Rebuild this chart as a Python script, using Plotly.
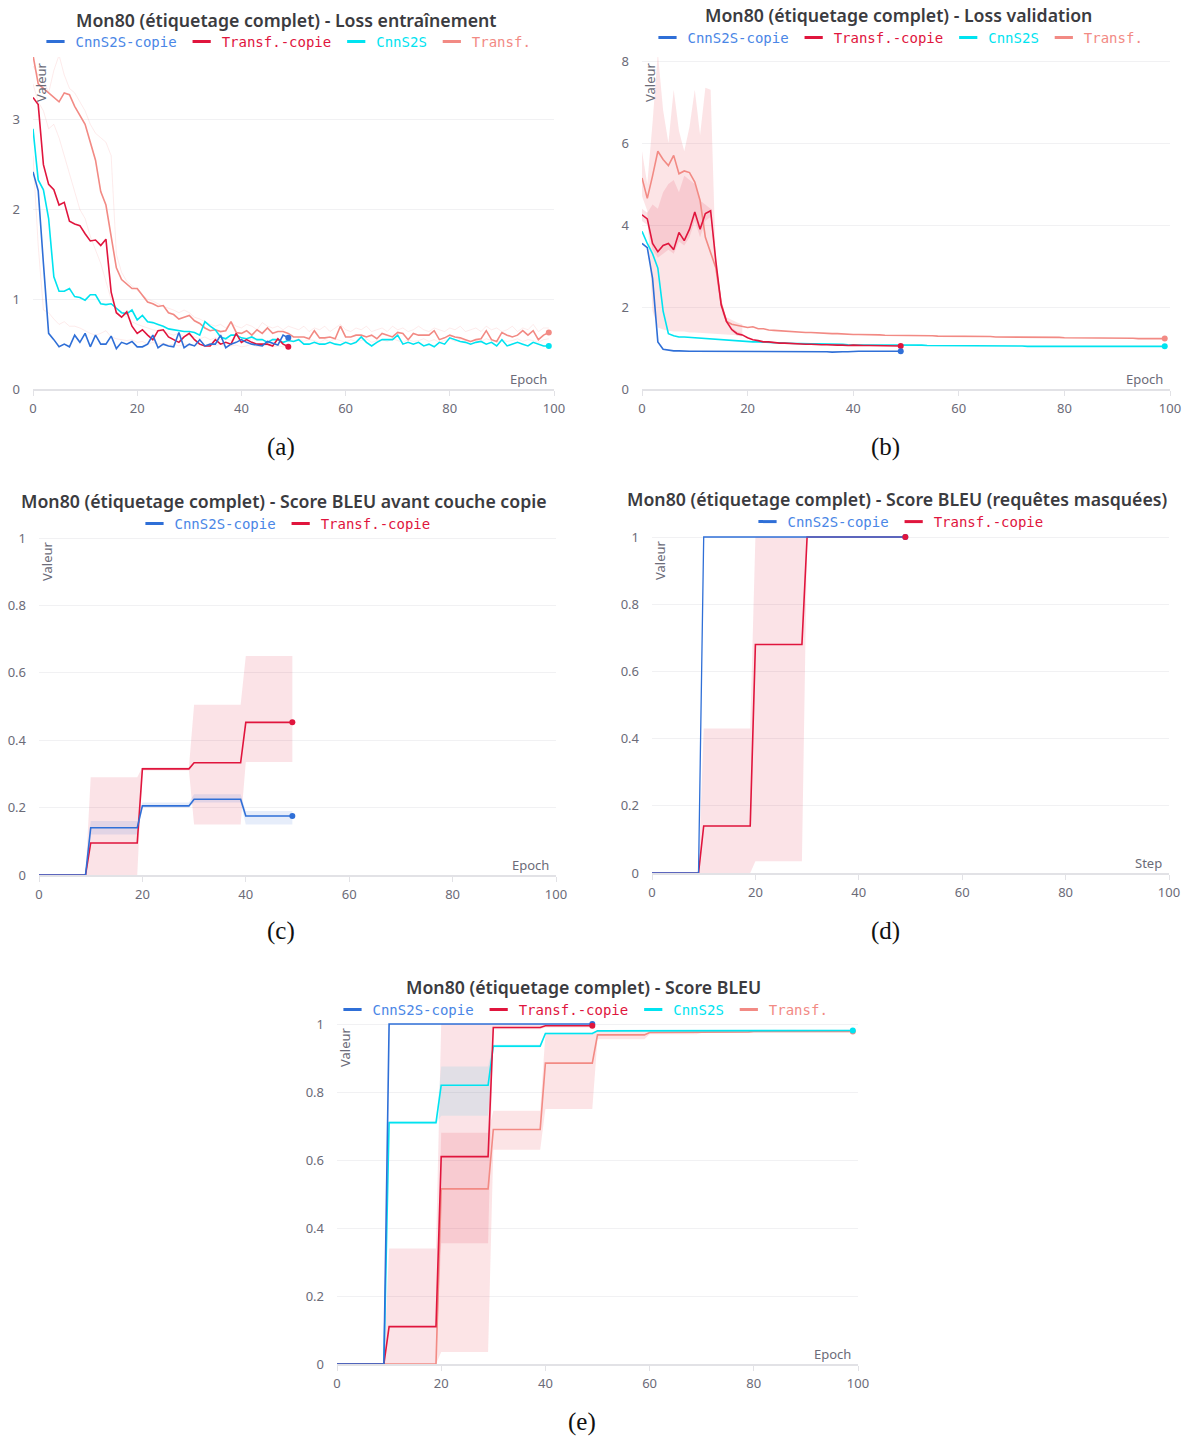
import numpy as np
import plotly.graph_objects as go

W, H = 1190, 1437

# Series colours
BLUE = "#2f6fd7"
RED = "#e0153d"
CYAN = "#00e3f0"
SALMON = "#f28a84"
BLUE_TXT = "#4a86e6"

NAMES = ["CnnS2S-copie", "Transf.-copie", "CnnS2S", "Transf."]
COLORS = [BLUE, RED, CYAN, SALMON]
TEXT_COLORS = [BLUE_TXT, RED, CYAN, SALMON]

# ---------------- (a) training loss ----------------
a_cnn_copie = [2.42, 2.21, 1.40, 0.62, 0.55, 0.47, 0.50, 0.47, 0.60, 0.52, 0.62, 0.47, 0.60, 0.50, 0.50, 0.59, 0.45,
               0.52, 0.50, 0.53, 0.47, 0.47, 0.50, 0.60, 0.46, 0.50, 0.48, 0.47, 0.63, 0.46, 0.50, 0.48, 0.55, 0.48,
               0.50, 0.50, 0.60, 0.46, 0.50, 0.52, 0.55, 0.52, 0.50, 0.49, 0.48, 0.53, 0.51, 0.49, 0.60, 0.57]
a_tr_copie = [3.25, 3.17, 2.50, 2.28, 2.22, 2.05, 2.08, 1.87, 1.84, 1.82, 1.73, 1.65, 1.66, 1.60, 1.67, 1.08, 0.85,
              0.80, 0.86, 0.70, 0.62, 0.66, 0.60, 0.55, 0.65, 0.66, 0.58, 0.55, 0.52, 0.58, 0.62, 0.55, 0.50, 0.48,
              0.48, 0.55, 0.50, 0.52, 0.50, 0.62, 0.52, 0.55, 0.52, 0.50, 0.50, 0.50, 0.48, 0.56, 0.50, 0.47]
a_cnn = [2.90, 2.33, 2.22, 1.90, 1.25, 1.09, 1.09, 1.12, 1.03, 1.02, 0.99, 1.05, 1.05, 0.95, 0.94, 0.95, 0.90, 0.85,
         0.84, 0.88, 0.77, 0.82, 0.75, 0.74, 0.72, 0.70, 0.67, 0.66, 0.65, 0.64, 0.64, 0.63, 0.60, 0.75, 0.70, 0.66,
         0.58, 0.56, 0.60, 0.60, 0.57, 0.56, 0.58, 0.55, 0.55, 0.52, 0.55, 0.55, 0.52, 0.54, 0.53, 0.55, 0.50, 0.50,
         0.52, 0.50, 0.50, 0.52, 0.50, 0.49, 0.52, 0.50, 0.52, 0.58, 0.52, 0.48, 0.52, 0.55, 0.55, 0.55, 0.60, 0.50,
         0.52, 0.50, 0.52, 0.48, 0.50, 0.47, 0.52, 0.50, 0.57, 0.55, 0.53, 0.52, 0.50, 0.52, 0.53, 0.50, 0.52, 0.48,
         0.55, 0.48, 0.50, 0.52, 0.50, 0.48, 0.52, 0.50, 0.48, 0.48]
a_tr = [3.72, 3.40, 3.35, 3.30, 3.25, 3.20, 3.30, 3.28, 3.15, 3.05, 2.95, 2.75, 2.55, 2.20, 2.05, 1.70, 1.35, 1.22,
        1.17, 1.12, 1.12, 1.05, 0.97, 0.95, 0.92, 0.93, 0.85, 0.83, 0.78, 0.80, 0.82, 0.76, 0.73, 0.68, 0.65, 0.66,
        0.64, 0.65, 0.75, 0.63, 0.62, 0.65, 0.60, 0.66, 0.62, 0.68, 0.62, 0.64, 0.64, 0.62, 0.58, 0.58, 0.58, 0.56,
        0.65, 0.57, 0.57, 0.58, 0.56, 0.70, 0.58, 0.58, 0.60, 0.60, 0.58, 0.60, 0.56, 0.62, 0.60, 0.58, 0.63, 0.62,
        0.55, 0.62, 0.60, 0.60, 0.60, 0.65, 0.55, 0.57, 0.60, 0.58, 0.57, 0.55, 0.53, 0.55, 0.56, 0.65, 0.55, 0.53,
        0.63, 0.60, 0.58, 0.60, 0.65, 0.60, 0.65, 0.55, 0.60, 0.63]
# individual runs shown faintly behind the means
a_run_tr_hi = [3.60, 3.50, 3.45, 3.30, 3.55, 3.72, 3.50, 3.35, 3.30, 3.20, 3.10, 2.95, 2.85, 2.80, 2.75, 2.60, 1.50,
               1.30, 1.20, 1.15, 1.10, 1.05, 1.00, 0.98, 0.95, 0.92, 0.90, 0.88, 0.85, 0.88, 0.85, 0.80, 0.78, 0.75,
               0.72, 0.70, 0.72, 0.68, 0.74, 0.70, 0.68, 0.72, 0.70, 0.66, 0.74, 0.70, 0.68, 0.70, 0.66, 0.70, 0.68,
               0.66, 0.70, 0.64, 0.68, 0.66, 0.70, 0.64, 0.68, 0.72, 0.66, 0.64, 0.68, 0.66, 0.70, 0.64, 0.66, 0.68,
               0.64, 0.70, 0.66, 0.68, 0.64, 0.66, 0.70, 0.66, 0.64, 0.68, 0.66, 0.64, 0.68, 0.66, 0.70, 0.64, 0.66,
               0.68, 0.64, 0.70, 0.66, 0.68, 0.64, 0.66, 0.70, 0.64, 0.68, 0.66, 0.72, 0.64, 0.68, 0.68]
a_run_tr_lo = [3.40, 3.20, 3.10, 2.90, 2.95, 2.80, 2.60, 2.40, 2.20, 2.00, 1.90, 1.70, 1.55, 1.40, 1.20, 1.00, 0.90,
               0.85, 0.80, 0.75, 0.72, 0.70, 0.68, 0.66, 0.65, 0.64, 0.62, 0.60, 0.62, 0.58, 0.60, 0.58, 0.56, 0.58,
               0.55, 0.57, 0.55, 0.56, 0.54, 0.56, 0.55, 0.53, 0.56, 0.54, 0.55, 0.53, 0.56, 0.54, 0.52, 0.55, 0.54,
               0.56, 0.53, 0.55, 0.54, 0.52, 0.55, 0.53, 0.56, 0.54, 0.52, 0.55, 0.53, 0.54, 0.56, 0.52, 0.54, 0.55,
               0.53, 0.56, 0.54, 0.52, 0.55, 0.53, 0.54, 0.56, 0.53, 0.55, 0.52, 0.54, 0.56, 0.53, 0.55, 0.54, 0.52,
               0.55, 0.53, 0.56, 0.54, 0.52, 0.55, 0.53, 0.54, 0.56, 0.53, 0.55, 0.54, 0.52, 0.55, 0.56]
a_run_trc_lo = [2.60, 1.60, 0.88, 0.85, 0.78, 0.72, 0.75, 0.70, 0.70, 0.68, 0.65, 0.62, 0.60, 0.62, 0.65, 0.58, 0.56,
                0.55, 0.54, 0.55, 0.52, 0.53, 0.50, 0.52, 0.50, 0.51, 0.49, 0.50, 0.48, 0.50, 0.49, 0.48, 0.50, 0.47,
                0.49, 0.48, 0.50, 0.47, 0.48, 0.49, 0.47, 0.48, 0.50, 0.47, 0.48, 0.49, 0.47, 0.48, 0.47, 0.48]

# ---------------- (b) validation loss ----------------
b_cnn_copie = [3.55, 3.45, 2.70, 1.15, 0.97, 0.95, 0.93, 0.93, 0.92, 0.92, 0.92, 0.92, 0.91, 0.91, 0.92, 0.92, 0.91,
               0.92, 0.92, 0.92, 0.91, 0.92, 0.92, 0.91, 0.92, 0.92, 0.92, 0.91, 0.92, 0.92, 0.92, 0.92, 0.91, 0.91,
               0.91, 0.91, 0.90, 0.91, 0.91, 0.91, 0.92, 0.92, 0.92, 0.92, 0.92, 0.92, 0.92, 0.92, 0.92, 0.92]
b_tr_copie = [4.25, 4.15, 3.55, 3.35, 3.50, 3.55, 3.40, 3.82, 3.62, 3.90, 4.32, 3.90, 4.28, 4.35, 3.10, 2.05, 1.65,
              1.45, 1.35, 1.32, 1.25, 1.20, 1.18, 1.15, 1.15, 1.13, 1.12, 1.12, 1.11, 1.10, 1.10, 1.09, 1.09, 1.08,
              1.08, 1.08, 1.07, 1.07, 1.07, 1.06, 1.07, 1.06, 1.06, 1.06, 1.06, 1.06, 1.06, 1.06, 1.05, 1.05]
b_cnn = [3.85, 3.55, 3.30, 2.95, 1.90, 1.35, 1.30, 1.27, 1.27, 1.26, 1.25, 1.25, 1.24, 1.23, 1.22, 1.21, 1.20, 1.19,
         1.18, 1.17, 1.16, 1.15, 1.15, 1.14, 1.14, 1.13, 1.13, 1.12, 1.12, 1.11, 1.11, 1.10, 1.10, 1.10, 1.10, 1.09,
         1.09, 1.09, 1.09, 1.08, 1.08, 1.08, 1.08, 1.08, 1.08, 1.08, 1.07, 1.07, 1.07, 1.07, 1.07, 1.07, 1.07, 1.07,
         1.06, 1.06, 1.06, 1.06, 1.06, 1.06, 1.05, 1.05, 1.05, 1.05, 1.05, 1.05, 1.05, 1.05, 1.05, 1.05, 1.05, 1.05,
         1.05, 1.04, 1.04, 1.04, 1.04, 1.04, 1.04, 1.04, 1.04, 1.04, 1.04, 1.04, 1.04, 1.04, 1.04, 1.04, 1.04, 1.04,
         1.04, 1.04, 1.04, 1.04, 1.04, 1.04, 1.04, 1.04, 1.04, 1.04]
b_tr = [5.15, 4.65, 5.20, 5.80, 5.60, 5.45, 5.70, 5.25, 5.32, 5.28, 5.05, 4.60, 3.70, 3.35, 2.95, 2.10, 1.65, 1.58,
        1.55, 1.52, 1.50, 1.52, 1.47, 1.47, 1.44, 1.43, 1.42, 1.42, 1.41, 1.40, 1.39, 1.38, 1.38, 1.37, 1.36, 1.36,
        1.35, 1.35, 1.34, 1.34, 1.33, 1.33, 1.33, 1.32, 1.32, 1.32, 1.31, 1.31, 1.31, 1.31, 1.31, 1.30, 1.30, 1.30,
        1.30, 1.30, 1.29, 1.29, 1.29, 1.29, 1.29, 1.28, 1.28, 1.28, 1.28, 1.28, 1.28, 1.27, 1.27, 1.27, 1.27, 1.27,
        1.27, 1.26, 1.26, 1.26, 1.26, 1.26, 1.26, 1.26, 1.25, 1.25, 1.25, 1.25, 1.25, 1.25, 1.25, 1.24, 1.24, 1.24,
        1.24, 1.24, 1.24, 1.24, 1.23, 1.23, 1.23, 1.23, 1.23, 1.23]
# min / max over runs for the first epochs
b_tr_hi = [5.80, 5.00, 6.50, 8.20, 6.80, 6.00, 7.30, 6.30, 5.80, 6.40, 7.30, 6.20, 7.35, 7.30, 3.00, 1.90, 1.75,
           1.68, 1.62, 1.58]
b_tr_lo = [4.70, 4.35, 1.90, 1.50, 1.45, 1.42, 1.40, 1.40, 1.40, 1.38, 1.38, 1.37, 1.36, 1.36, 1.35, 1.34, 1.33,
           1.32, 1.31, 1.30]
b_trc_hi = [4.40, 4.30, 4.50, 4.40, 4.80, 5.00, 5.10, 4.80, 5.20, 5.10, 5.00, 4.60, 4.50, 4.40, 3.20, 2.10, 1.70,
            1.50, 1.40, 1.36]
b_trc_lo = [4.10, 4.00, 3.40, 3.20, 3.30, 3.40, 3.30, 3.60, 3.50, 3.70, 4.10, 3.70, 4.10, 4.20, 2.80, 1.90, 1.60,
            1.40, 1.30, 1.28]

# ---------------- BLEU scores: one evaluation every 10 epochs, held until the next ----------------
EVAL_EVERY = 10
# (c) BLEU before the copy layer
c_cnn_copie = [0.0, 0.140, 0.205, 0.225, 0.175]
c_cnn_copie_lo = [0.0, 0.120, 0.200, 0.215, 0.150]
c_cnn_copie_hi = [0.0, 0.160, 0.215, 0.240, 0.190]
c_tr_copie = [0.0, 0.095, 0.315, 0.333, 0.453]
c_tr_copie_lo = [0.0, 0.0, 0.310, 0.150, 0.335]
c_tr_copie_hi = [0.0, 0.290, 0.320, 0.505, 0.650]
# (d) BLEU on masked queries
d_cnn_copie = [0.0, 1.0, 1.0, 1.0, 1.0]
d_tr_copie = [0.0, 0.14, 0.68, 1.0, 1.0]
d_tr_copie_lo = [0.0, 0.0, 0.035, 1.0, 1.0]
d_tr_copie_hi = [0.0, 0.43, 1.0, 1.0, 1.0]
# (e) BLEU
e_cnn_copie = [0.0, 1.0, 1.0, 1.0, 1.0]
e_tr_copie = [0.0, 0.11, 0.61, 0.99, 0.995]
e_tr_copie_lo = [0.0, 0.0, 0.355, 0.985, 0.99]
e_tr_copie_hi = [0.0, 0.34, 1.0, 1.0, 1.0]
e_cnn = [0.0, 0.71, 0.82, 0.935, 0.972, 0.980, 0.981, 0.981, 0.981, 0.981]
e_cnn_lo = [0.0, 0.705, 0.73, 0.93, 0.968, 0.978, 0.979, 0.979, 0.979, 0.979]
e_cnn_hi = [0.0, 0.715, 0.875, 0.94, 0.976, 0.982, 0.983, 0.983, 0.983, 0.983]
e_tr = [0.0, 0.0, 0.515, 0.69, 0.885, 0.968, 0.975, 0.977, 0.978, 0.978]
e_tr_lo = [0.0, 0.0, 0.035, 0.63, 0.75, 0.955, 0.970, 0.974, 0.975, 0.975]
e_tr_hi = [0.0, 0.0, 0.68, 0.745, 0.97, 0.980, 0.980, 0.980, 0.980, 0.980]

TITLES = [
    "Mon80 (étiquetage complet) - Loss entraînement",
    "Mon80 (étiquetage complet) - Loss validation",
    "Mon80 (étiquetage complet) - Score BLEU avant couche copie",
    "Mon80 (étiquetage complet) - Score BLEU (requêtes masquées)",
    "Mon80 (étiquetage complet) - Score BLEU",
]
XLABELS = ["Epoch", "Epoch", "Epoch", "Step", "Epoch"]
CAPTIONS = ["(a)", "(b)", "(c)", "(d)", "(e)"]
X_TICKS = [0, 20, 40, 60, 80, 100]


def held(levels):
    return np.repeat(np.asarray(levels, dtype=float), EVAL_EVERY)


def px(x):
    return x / W


def py(y):
    return 1 - y / H


# panel geometry in page pixels: x-span, y-span (bottom, top), y range, y tick step
PANELS = [
    dict(x=(33, 554), y=(389, 57), yr=[0, 3.7], dt=1),
    dict(x=(642, 1170), y=(389, 57), yr=[0, 8.1], dt=2),
    dict(x=(39, 556), y=(875, 536), yr=[0, 1.006], dt=0.2),
    dict(x=(652, 1169), y=(873, 535), yr=[0, 1.006], dt=0.2),
    dict(x=(337, 858), y=(1364, 1022), yr=[0, 1.006], dt=0.2),
]
TITLE_POS = [(286, 20), (898, 15), (284, 501), (897, 499), (583, 987)]
LEGEND_POS = [(286, 42), (898, 38), (285, 524), (898, 522), (583, 1010)]
CAPTION_POS = [(281, 447), (885, 447), (281, 931), (885, 931), (582, 1422)]
# which series each panel lists in its legend
LEGEND_SERIES = [[0, 1, 2, 3], [0, 1, 2, 3], [0, 1], [0, 1], [0, 1, 2, 3]]

fig = go.Figure()


def refs(k):
    s = "" if k == 1 else str(k)
    return "x" + s, "y" + s, "legend" + s


def add_line(k, y, color, width=1.6):
    xa, ya, _ = refs(k)
    y = np.asarray(y, dtype=float)
    fig.add_trace(go.Scatter(
        x=np.arange(len(y)), y=y, mode="lines", xaxis=xa, yaxis=ya,
        line=dict(color=color, width=width), showlegend=False, hoverinfo="skip"))


def add_dot(k, y, color):
    xa, ya, _ = refs(k)
    fig.add_trace(go.Scatter(
        x=[len(y) - 1], y=[y[-1]], mode="markers", xaxis=xa, yaxis=ya,
        marker=dict(color=color, size=6), showlegend=False, hoverinfo="skip", cliponaxis=False))


def add_band(k, lo, hi, fill):
    xa, ya, _ = refs(k)
    x = np.arange(len(lo))
    fig.add_trace(go.Scatter(
        x=np.concatenate([x, x[::-1]]), y=np.concatenate([np.asarray(hi, float), np.asarray(lo, float)[::-1]]),
        fill="toself", fillcolor=fill, line=dict(width=0), mode="lines",
        xaxis=xa, yaxis=ya, showlegend=False, hoverinfo="skip"))


def add_legend_entries(k, series):
    # legend keys: a short thick dash followed by the name in the series colour
    xa, ya, lg = refs(k)
    for j in series:
        fig.add_trace(go.Scatter(
            x=[None], y=[None], mode="markers", xaxis=xa, yaxis=ya, legend=lg,
            marker=dict(symbol="line-ew", size=13, color=COLORS[j], line=dict(width=3, color=COLORS[j])),
            name=f"<span style='color:{TEXT_COLORS[j]}'>{NAMES[j]}</span>", showlegend=True, hoverinfo="skip"))


FAINT = "rgba(240,128,128,0.16)"
BAND_TR = "rgba(240,120,128,0.20)"
BAND_RED = "rgba(224,21,61,0.12)"
BAND_BLUE = "rgba(47,111,215,0.12)"
BAND_CYAN = "rgba(0,200,230,0.10)"

# (a)
for run in (a_run_tr_hi, a_run_tr_lo, a_run_trc_lo):
    add_line(1, run, FAINT, width=1)
for s, c in ((a_tr, SALMON), (a_cnn, CYAN), (a_tr_copie, RED), (a_cnn_copie, BLUE)):
    add_line(1, s, c)
for s, c in ((a_tr, SALMON), (a_cnn, CYAN), (a_tr_copie, RED), (a_cnn_copie, BLUE)):
    add_dot(1, s, c)

# (b)
add_band(2, b_tr_lo, b_tr_hi, BAND_TR)
add_band(2, b_trc_lo, b_trc_hi, BAND_RED)
for s, c in ((b_tr, SALMON), (b_cnn, CYAN), (b_tr_copie, RED), (b_cnn_copie, BLUE)):
    add_line(2, s, c)
for s, c in ((b_tr, SALMON), (b_cnn, CYAN), (b_tr_copie, RED), (b_cnn_copie, BLUE)):
    add_dot(2, s, c)

# (c)
add_band(3, held(c_tr_copie_lo), held(c_tr_copie_hi), BAND_RED)
add_band(3, held(c_cnn_copie_lo), held(c_cnn_copie_hi), BAND_BLUE)
add_line(3, held(c_tr_copie), RED)
add_line(3, held(c_cnn_copie), BLUE)
add_dot(3, held(c_cnn_copie), BLUE)
add_dot(3, held(c_tr_copie), RED)

# (d)
add_band(4, held(d_tr_copie_lo), held(d_tr_copie_hi), BAND_RED)
add_line(4, held(d_tr_copie), RED)
add_line(4, held(d_cnn_copie), BLUE, width=1.3)
add_dot(4, held(d_cnn_copie), BLUE)
add_dot(4, held(d_tr_copie), RED)

# (e)
add_band(5, held(e_tr_lo), held(e_tr_hi), BAND_TR)
add_band(5, held(e_tr_copie_lo), held(e_tr_copie_hi), BAND_RED)
add_band(5, held(e_cnn_lo), held(e_cnn_hi), BAND_CYAN)
for s, c in ((held(e_tr), SALMON), (held(e_cnn), CYAN), (held(e_tr_copie), RED), (held(e_cnn_copie), BLUE)):
    add_line(5, s, c)
for s, c in ((held(e_tr), SALMON), (held(e_cnn), CYAN), (held(e_cnn_copie), BLUE), (held(e_tr_copie), RED)):
    add_dot(5, s, c)

for i, series in enumerate(LEGEND_SERIES):
    add_legend_entries(i + 1, series)

TICK_FONT = dict(family="Noto Sans", size=13, color="#6b6b78")
LABEL_FONT = dict(family="Noto Sans", size=13, color="#6b6b78")
layout = dict(
    width=W, height=H, margin=dict(l=0, r=0, t=0, b=0, autoexpand=False),
    paper_bgcolor="white", plot_bgcolor="white", showlegend=True,
    hovermode=False,
)
annotations = []
for i, p in enumerate(PANELS):
    k = i + 1
    s = "" if k == 1 else str(k)
    layout["xaxis" + s] = dict(
        domain=[px(p["x"][0]), px(p["x"][1])], range=[0, 100], anchor="y" + s, automargin=False,
        tickvals=X_TICKS, ticks="outside", ticklen=5, tickcolor="#e2e2e6", tickwidth=1,
        showline=True, linecolor="#e2e2e6", linewidth=2, showgrid=False, zeroline=False,
        tickfont=TICK_FONT, ticklabelstandoff=1, fixedrange=True)
    layout["yaxis" + s] = dict(
        domain=[py(p["y"][0]), py(p["y"][1])], range=p["yr"], anchor="x" + s, dtick=p["dt"], tick0=0,
        automargin=False,
        showgrid=True, gridcolor="#f1f1f3", gridwidth=1, zeroline=False, showline=False, ticks="",
        tickfont=TICK_FONT, ticklabelstandoff=12, fixedrange=True)
    lx, ly = LEGEND_POS[i]
    layout["legend" + s] = dict(
        orientation="h", x=px(lx), xanchor="center", y=py(ly), yanchor="middle",
        font=dict(family="DejaVu Sans Mono", size=14), bgcolor="rgba(0,0,0,0)",
        itemwidth=30, traceorder="normal", itemclick=False, itemdoubleclick=False)
    tx, ty = TITLE_POS[i]
    annotations.append(dict(
        text=TITLES[i], x=px(tx), y=py(ty), xref="paper", yref="paper", xanchor="center", yanchor="middle",
        showarrow=False, font=dict(family="Noto Sans", size=17.7, color="#3b3b40", weight=600)))
    cx, cy = CAPTION_POS[i]
    annotations.append(dict(
        text=CAPTIONS[i], x=px(cx), y=py(cy), xref="paper", yref="paper", xanchor="center", yanchor="middle",
        showarrow=False, font=dict(family="Liberation Serif", size=25, color="#111111")))
    # axis name at the right end of the x axis
    annotations.append(dict(
        text=XLABELS[i], x=px(p["x"][1] - 5), y=py(p["y"][0] - 10), xref="paper", yref="paper",
        xanchor="right", yanchor="middle", showarrow=False, font=LABEL_FONT))
    annotations.append(dict(
        text="Valeur", x=px(p["x"][0] + 8), y=py(p["y"][1] + 3), xref="paper", yref="paper",
        xanchor="center", yanchor="top", textangle=-90, showarrow=False, font=LABEL_FONT))
layout["annotations"] = annotations
fig.update_layout(**layout)

fig.write_html("out.html")
